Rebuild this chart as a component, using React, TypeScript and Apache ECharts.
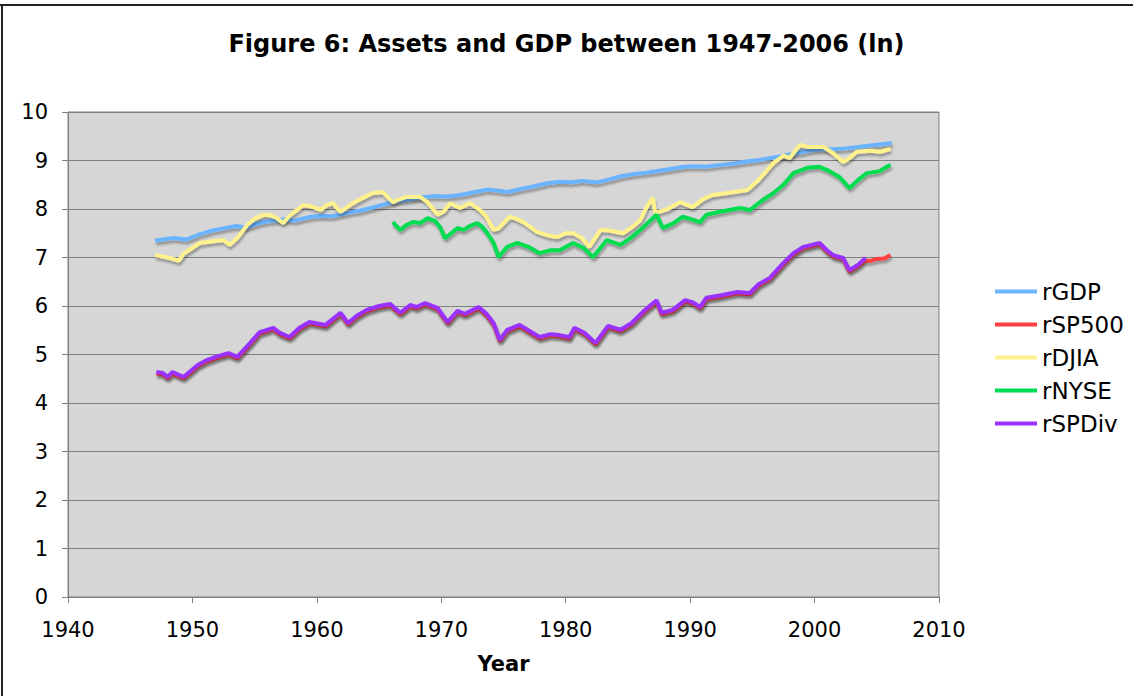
import React, { useEffect, useRef } from "react";
import * as echarts from "echarts";

const titleText = "Figure 6: Assets and GDP between 1947-2006 (ln)";
const xTicks = [1940, 1950, 1960, 1970, 1980, 1990, 2000, 2010];
const seriesNames = ["rGDP", "rSP500", "rDJIA", "rNYSE", "rSPDiv"];
const seriesColors = ["#6BB4FF", "#FF3F3F", "#FFF28C", "#00DC50", "#9933FF"];

const rGDP: [number, number][] = [
  [1947.0, 7.35], [1948.5, 7.40], [1949.5, 7.37], [1950.5, 7.47], [1951.5, 7.55], [1952.5, 7.60],
  [1953.5, 7.65], [1954.3, 7.62], [1955.5, 7.72], [1956.5, 7.76], [1957.5, 7.79], [1958.2, 7.76],
  [1959.5, 7.84], [1960.5, 7.86], [1961.2, 7.85], [1962.5, 7.92], [1963.5, 7.97], [1964.5, 8.03],
  [1965.5, 8.10], [1966.5, 8.17], [1967.5, 8.20], [1968.5, 8.24], [1969.5, 8.27], [1970.5, 8.26],
  [1971.5, 8.29], [1972.5, 8.34], [1973.7, 8.40], [1974.8, 8.37], [1975.3, 8.35], [1976.5, 8.42],
  [1977.5, 8.47], [1978.5, 8.53], [1979.5, 8.56], [1980.5, 8.55], [1981.3, 8.58], [1982.5, 8.55],
  [1983.5, 8.61], [1984.5, 8.68], [1985.5, 8.72], [1986.5, 8.75], [1987.5, 8.79], [1988.5, 8.83],
  [1989.5, 8.87], [1990.5, 8.88], [1991.2, 8.87], [1992.5, 8.91], [1993.5, 8.94], [1994.5, 8.98],
  [1995.5, 9.01], [1996.5, 9.05], [1997.5, 9.10], [1998.5, 9.15], [1999.5, 9.20], [2000.5, 9.23],
  [2001.5, 9.23], [2002.5, 9.25], [2003.5, 9.28], [2004.5, 9.31], [2005.5, 9.34], [2006.2, 9.36],
];

const rSP500: [number, number][] = [
  [1947.1, 4.61], [1947.6, 4.59], [1948.0, 4.51], [1948.4, 4.61], [1948.9, 4.55], [1949.3, 4.51],
  [1950.4, 4.75], [1951.2, 4.86], [1952.0, 4.93], [1952.9, 5.00], [1953.6, 4.92], [1954.5, 5.17],
  [1955.4, 5.43], [1956.5, 5.52], [1957.0, 5.42], [1957.8, 5.33], [1958.6, 5.52], [1959.4, 5.64],
  [1960.7, 5.58], [1961.9, 5.83], [1962.5, 5.62], [1963.2, 5.77], [1964.0, 5.89], [1965.0, 5.97],
  [1965.9, 6.01], [1966.7, 5.83], [1967.5, 5.99], [1968.0, 5.95], [1968.7, 6.03], [1969.7, 5.93],
  [1970.5, 5.64], [1971.3, 5.87], [1971.9, 5.81], [1973.0, 5.95], [1973.6, 5.82], [1974.2, 5.62],
  [1974.7, 5.27], [1975.3, 5.48], [1976.3, 5.58], [1977.0, 5.47], [1977.9, 5.33], [1978.8, 5.39],
  [1979.5, 5.37], [1980.3, 5.33], [1980.7, 5.52], [1981.5, 5.42], [1982.4, 5.21], [1983.4, 5.56],
  [1984.4, 5.48], [1985.3, 5.62], [1986.2, 5.85], [1987.3, 6.09], [1987.7, 5.83], [1988.6, 5.89],
  [1989.6, 6.09], [1990.2, 6.05], [1990.8, 5.95], [1991.3, 6.14], [1992.5, 6.19], [1993.8, 6.26],
  [1994.8, 6.24], [1995.5, 6.42], [1996.4, 6.55], [1997.5, 6.86], [1998.3, 7.06], [1999.1, 7.19],
  [2000.4, 7.27], [2001.0, 7.12], [2001.5, 7.02], [2002.3, 6.96], [2002.8, 6.71], [2003.5, 6.82],
  [2004.1, 6.94], [2004.5, 6.93], [2005.0, 6.97], [2005.6, 6.98], [2006.1, 7.05],
];

const rDJIA: [number, number][] = [
  [1947.0, 7.05], [1947.6, 7.02], [1948.2, 6.99], [1948.9, 6.93], [1949.3, 7.08], [1950.0, 7.20],
  [1950.6, 7.30], [1951.5, 7.33], [1952.5, 7.36], [1953.0, 7.26], [1953.6, 7.40], [1954.4, 7.67],
  [1955.0, 7.80], [1955.7, 7.88], [1956.3, 7.87], [1956.8, 7.81], [1957.3, 7.71], [1957.8, 7.86],
  [1958.9, 8.08], [1959.6, 8.05], [1960.3, 7.98], [1960.8, 8.08], [1961.3, 8.12], [1961.9, 7.94],
  [1962.9, 8.12], [1963.7, 8.23], [1964.5, 8.33], [1965.3, 8.35], [1966.1, 8.14], [1966.6, 8.20],
  [1967.2, 8.25], [1968.3, 8.25], [1968.9, 8.14], [1969.7, 7.88], [1970.2, 7.95], [1970.7, 8.12],
  [1971.5, 8.02], [1972.3, 8.12], [1973.1, 7.98], [1973.6, 7.85], [1974.2, 7.57], [1974.6, 7.60],
  [1975.5, 7.84], [1976.0, 7.80], [1976.6, 7.73], [1977.7, 7.53], [1978.5, 7.46], [1979.3, 7.42],
  [1980.0, 7.50], [1980.6, 7.50], [1981.3, 7.40], [1981.9, 7.22], [1982.8, 7.57], [1983.6, 7.55],
  [1984.6, 7.50], [1985.3, 7.62], [1986.0, 7.77], [1986.5, 8.04], [1987.0, 8.23], [1987.2, 7.92],
  [1988.2, 8.00], [1989.2, 8.14], [1990.2, 8.04], [1991.0, 8.20], [1991.8, 8.29], [1993.0, 8.33],
  [1994.6, 8.39], [1995.5, 8.60], [1996.7, 8.95], [1997.5, 9.10], [1998.0, 9.05], [1998.8, 9.32],
  [1999.5, 9.28], [2000.7, 9.28], [2001.5, 9.15], [2002.3, 8.97], [2002.8, 9.05], [2003.4, 9.18],
  [2004.5, 9.20], [2005.3, 9.18], [2006.1, 9.24],
];

const rNYSE: [number, number][] = [
  [1966.1, 7.73], [1966.7, 7.57], [1967.2, 7.67], [1967.7, 7.73], [1968.3, 7.71], [1968.9, 7.81],
  [1969.5, 7.75], [1969.9, 7.63], [1970.3, 7.40], [1970.8, 7.50], [1971.3, 7.61], [1971.8, 7.57],
  [1972.3, 7.65], [1972.9, 7.71], [1973.3, 7.63], [1973.7, 7.50], [1974.2, 7.30], [1974.6, 7.01],
  [1975.3, 7.22], [1976.1, 7.30], [1977.0, 7.22], [1977.9, 7.09], [1978.8, 7.15], [1979.5, 7.15],
  [1980.6, 7.30], [1981.4, 7.20], [1982.2, 7.01], [1983.3, 7.36], [1984.4, 7.26], [1985.2, 7.40],
  [1986.0, 7.57], [1987.3, 7.88], [1987.8, 7.61], [1988.6, 7.70], [1989.4, 7.84], [1990.2, 7.78],
  [1990.8, 7.73], [1991.3, 7.88], [1992.5, 7.95], [1994.0, 8.02], [1994.8, 7.98], [1995.8, 8.18],
  [1996.7, 8.33], [1997.5, 8.50], [1998.3, 8.74], [1999.4, 8.85], [2000.4, 8.87], [2001.2, 8.78],
  [2002.0, 8.66], [2002.8, 8.43], [2003.5, 8.60], [2004.2, 8.74], [2005.2, 8.78], [2006.1, 8.91],
];

const rSPDiv: [number, number][] = [
  [1947.1, 4.64], [1947.6, 4.62], [1948.0, 4.54], [1948.4, 4.64], [1948.9, 4.58], [1949.3, 4.54],
  [1950.4, 4.78], [1951.2, 4.89], [1952.0, 4.96], [1952.9, 5.03], [1953.6, 4.95], [1954.5, 5.20],
  [1955.4, 5.46], [1956.5, 5.55], [1957.0, 5.45], [1957.8, 5.36], [1958.6, 5.55], [1959.4, 5.67],
  [1960.7, 5.61], [1961.9, 5.86], [1962.5, 5.65], [1963.2, 5.80], [1964.0, 5.92], [1965.0, 6.00],
  [1965.9, 6.04], [1966.7, 5.86], [1967.5, 6.02], [1968.0, 5.98], [1968.7, 6.06], [1969.7, 5.96],
  [1970.5, 5.67], [1971.3, 5.90], [1971.9, 5.84], [1973.0, 5.98], [1973.6, 5.85], [1974.2, 5.65],
  [1974.7, 5.30], [1975.3, 5.51], [1976.3, 5.61], [1977.0, 5.50], [1977.9, 5.36], [1978.8, 5.42],
  [1979.5, 5.40], [1980.3, 5.36], [1980.7, 5.55], [1981.5, 5.45], [1982.4, 5.24], [1983.4, 5.59],
  [1984.4, 5.51], [1985.3, 5.65], [1986.2, 5.88], [1987.3, 6.12], [1987.7, 5.86], [1988.6, 5.92],
  [1989.6, 6.12], [1990.2, 6.08], [1990.8, 5.98], [1991.3, 6.17], [1992.5, 6.22], [1993.8, 6.29],
  [1994.8, 6.27], [1995.5, 6.45], [1996.4, 6.58], [1997.5, 6.89], [1998.3, 7.09], [1999.1, 7.22],
  [2000.4, 7.30], [2001.0, 7.15], [2001.5, 7.05], [2002.3, 6.99], [2002.8, 6.74], [2003.5, 6.85],
  [2004.1, 6.99],
];

const seriesData = [rGDP, rSP500, rDJIA, rNYSE, rSPDiv];
const FONT = "DejaVu Sans, Verdana, sans-serif";

export default function App() {
  const ref = useRef<HTMLDivElement>(null);
  useEffect(() => {
    document.body.style.margin = "0";
    if (!ref.current) return;
    const chart = echarts.init(ref.current, null, { renderer: "svg" });
    chart.setOption({
      animation: false,
      backgroundColor: "#ffffff",
      textStyle: { fontFamily: FONT },
      title: {
        text: titleText,
        left: "center",
        top: 27,
        textStyle: { fontFamily: FONT, fontSize: 24, fontWeight: "bold", color: "#000" },
      },
      graphic: [
        { type: "line", shape: { x1: 0, y1: 5, x2: 1133, y2: 5 }, style: { stroke: "#222", lineWidth: 2 } },
        { type: "line", shape: { x1: 2, y1: 5, x2: 2, y2: 696 }, style: { stroke: "#222", lineWidth: 2 } },
      ],
      legend: {
        orient: "vertical",
        left: 995,
        top: 280,
        padding: 0,
        icon: "rect",
        itemWidth: 42,
        itemHeight: 4,
        itemGap: 10,
        textStyle: { fontFamily: FONT, fontSize: 23, color: "#000", lineHeight: 22 },
        data: seriesNames,
      },
      grid: {
        left: 68,
        top: 112,
        right: 194,
        bottom: 99,
        show: true,
        backgroundColor: "#D6D6D6",
        borderColor: "#808080",
        borderWidth: 1,
      },
      xAxis: {
        type: "value",
        min: xTicks[0],
        max: xTicks[xTicks.length - 1],
        interval: 10,
        name: "Year",
        nameLocation: "middle",
        nameGap: 56,
        nameTextStyle: { fontFamily: FONT, fontSize: 21, fontWeight: "bold", color: "#000" },
        axisLine: { show: true, lineStyle: { color: "#808080" } },
        axisTick: { show: true, length: 6, lineStyle: { color: "#808080" } },
        axisLabel: {
          fontFamily: FONT,
          fontSize: 21,
          color: "#000",
          margin: 22,
          formatter: (v: number) => String(v),
        },
        splitLine: { show: false },
      },
      yAxis: {
        type: "value",
        min: 0,
        max: 10,
        interval: 1,
        axisLine: { show: true, lineStyle: { color: "#808080" } },
        axisTick: { show: true, length: 6, lineStyle: { color: "#808080" } },
        axisLabel: { fontFamily: FONT, fontSize: 21, color: "#000", margin: 20 },
        splitLine: { show: true, lineStyle: { color: "#808080", width: 1 } },
      },
      series: seriesNames.map((name, i) => ({
        name,
        type: "line",
        data: seriesData[i],
        showSymbol: false,
        symbol: "none",
        color: seriesColors[i],
        lineStyle: {
          color: seriesColors[i],
          width: 4,
          shadowColor: "rgba(0,0,0,0.3)",
          shadowBlur: 2,
          shadowOffsetX: 1,
          shadowOffsetY: 3,
        },
      })),
    });
    return () => chart.dispose();
  }, []);
  return <div ref={ref} style={{ width: 1133, height: 696 }} />;
}
